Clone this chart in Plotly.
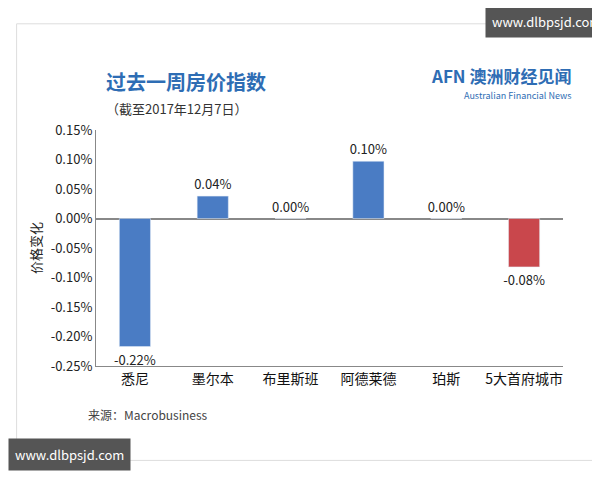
import plotly.graph_objects as go

cities = ["悉尼", "墨尔本", "布里斯班", "阿德莱德", "珀斯", "5大首府城市"]
values = [-0.217, 0.038, 0.0, 0.097, 0.0, -0.082]
labels = ["-0.22%", "0.04%", "0.00%", "0.10%", "0.00%", "-0.08%"]
colors = ["#4a7cc4", "#4a7cc4", "#4a7cc4", "#4a7cc4", "#4a7cc4", "#c9474c"]
ticks = [0.15, 0.10, 0.05, 0.0, -0.05, -0.10, -0.15, -0.20, -0.25]
tick_text = ["0.15%", "0.10%", "0.05%", "0.00%", "-0.05%", "-0.10%", "-0.15%", "-0.20%", "-0.25%"]

F = "Noto Sans CJK SC"
fig = go.Figure(go.Bar(
    x=cities, y=values, marker_color=colors, width=0.4,
    text=labels, textposition="outside", cliponaxis=False,
    textfont=dict(size=13, color="#222", family=F)))
fig.update_layout(
    width=600, height=480, paper_bgcolor="white", plot_bgcolor="white",
    margin=dict(l=88, r=45, t=122, b=122, autoexpand=False), showlegend=False,
    font=dict(family=F, color="#222"), uniformtext=dict(minsize=13, mode="show"),
    xaxis=dict(showline=True, linecolor="#888", tickfont=dict(size=14, color="#111"), ticks=""),
    yaxis=dict(range=[-0.25, 0.15], tickvals=ticks, ticktext=tick_text, showgrid=False,
               showline=True, linecolor="#888", zeroline=True, zerolinecolor="#888",
               tickfont=dict(size=13, color="#222"),
               title=dict(text="价格变化", font=dict(size=13), standoff=6)),
    shapes=[dict(type="rect", xref="paper", yref="paper", x0=-0.17, x1=1.08, y0=-0.40, y1=1.45,
                 line=dict(color="#ddd", width=1))],
    annotations=[
        dict(xref="paper", yref="paper", x=0, y=1.0, xanchor="left", yanchor="bottom",
             xshift=8, yshift=32, text="<b>过去一周房价指数</b>", showarrow=False,
             font=dict(size=20, color="#2e6db4")),
        dict(xref="paper", yref="paper", x=0, y=1.0, xanchor="left", yanchor="bottom",
             xshift=8, yshift=10, text="（截至2017年12月7日）", showarrow=False,
             font=dict(size=13, color="#333")),
        dict(xref="paper", yref="paper", x=1.0, y=1.0, xanchor="right", yanchor="bottom",
             xshift=10, yshift=40, text="<b>AFN</b> <b>澳洲财经见闻</b>", showarrow=False,
             font=dict(size=17, color="#2e6db4")),
        dict(xref="paper", yref="paper", x=1.0, y=1.0, xanchor="right", yanchor="bottom",
             xshift=10, yshift=26, text="Australian Financial News", showarrow=False,
             font=dict(size=9, color="#2e6db4")),
        dict(xref="paper", yref="paper", x=0, y=0, xanchor="left", yanchor="top",
             xshift=-10, yshift=-38, text="来源：Macrobusiness", showarrow=False,
             font=dict(size=12, color="#444")),
        dict(xref="paper", yref="paper", x=1.0, y=1.0, xanchor="right", yanchor="bottom",
             xshift=45, yshift=92, text="www.dlbpsjd.com", showarrow=False, bgcolor="#555",
             borderpad=6, font=dict(size=13, color="white")),
        dict(xref="paper", yref="paper", x=0, y=0, xanchor="left", yanchor="top",
             xshift=-88, yshift=-72, text="www.dlbpsjd.com", showarrow=False, bgcolor="#555",
             borderpad=6, font=dict(size=13, color="white")),
    ])
fig.write_html("out.html")
